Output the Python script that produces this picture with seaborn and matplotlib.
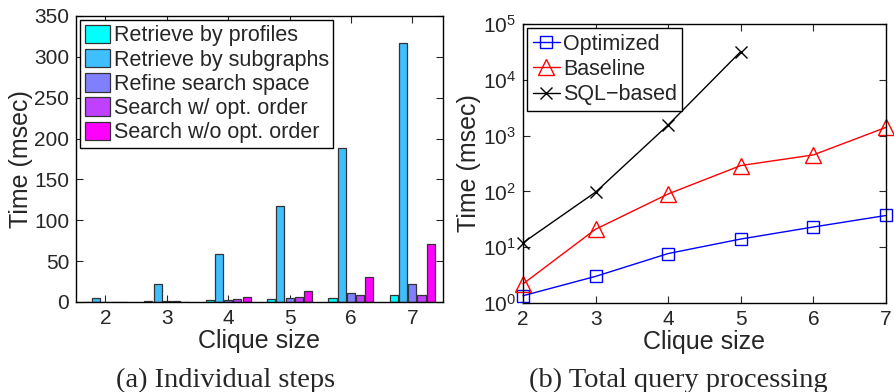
import numpy as np
import pandas as pd
import matplotlib
matplotlib.use("Agg")
import matplotlib.pyplot as plt
import seaborn as sns
from matplotlib.ticker import FixedLocator

# ---------------- data ----------------
clique_sizes = [2, 3, 4, 5, 6, 7]
step_names = ["Retrieve by profiles", "Retrieve by subgraphs", "Refine search space",
              "Search w/ opt. order", "Search w/o opt. order"]
retrieve_profiles = [0.5, 1.0, 2.5, 4.0, 5.0, 8.5]
retrieve_subgraphs = [5.5, 22.0, 59.0, 117.0, 188.0, 317.0]
refine_space = [0.5, 1.0, 2.0, 5.5, 11.0, 21.5]
search_opt = [0.3, 1.0, 3.5, 6.0, 9.0, 9.0]
search_noopt = [0.5, 0.5, 6.0, 13.5, 30.5, 71.0]

total_x = [2, 3, 4, 5, 6, 7]
optimized = [1.35, 3.0, 7.7, 14.0, 23.0, 37.0]
baseline = [2.2, 21.0, 90.0, 290.0, 450.0, 1400.0]
sql_x = [2, 3, 4, 5]
sql_based = [12.0, 97.0, 1550.0, 32000.0]

step_colors = ["#00FFFF", "#40BFFF", "#8080FF", "#BF40FF", "#FF00FF"]

# ---------------- style ----------------
sns.set_theme(style="ticks")
plt.rcParams["font.family"] = ["Liberation Sans", "DejaVu Sans"]
plt.rcParams["mathtext.fontset"] = "custom"
plt.rcParams["mathtext.rm"] = "Liberation Sans"
plt.rcParams["mathtext.it"] = "Liberation Sans"
plt.rcParams["axes.linewidth"] = 1.0
plt.rcParams["axes.edgecolor"] = "black"

fig = plt.figure(figsize=(8.94, 3.92), dpi=100)
ax1 = fig.add_axes([0.085, 0.2296, 0.4105, 0.7296])
ax2 = fig.add_axes([0.585, 0.227, 0.406, 0.712])

# ---------------- left: bars ----------------
rows = []
series = [retrieve_profiles, retrieve_subgraphs, refine_space, search_opt, search_noopt]
for name, vals in zip(step_names, series):
    for c, v in zip(clique_sizes, vals):
        rows.append({"Clique size": str(c), "Step": name, "Time": v})
df_bars = pd.DataFrame(rows)

sns.barplot(data=df_bars, x="Clique size", y="Time", hue="Step",
            hue_order=step_names, palette=step_colors, width=0.75, gap=0.12,
            edgecolor="#333333", linewidth=0.9, saturation=1.0, errorbar=None, ax=ax1)
ax1.set_xlim(-0.48, 5.5)
ax1.set_ylim(0, 350)
ax1.set_yticks(np.arange(0, 351, 50))
ax1.set_xlabel("Clique size", fontsize=18, labelpad=1)
ax1.set_ylabel("Time (msec)", fontsize=18, labelpad=1)
ax1.tick_params(direction="in", top=True, right=True, labelsize=15, length=5, width=0.8, pad=5)
leg1 = ax1.legend(loc="upper left", fontsize=15.5, frameon=True, fancybox=False,
                  edgecolor="black", framealpha=1, borderpad=0.2, labelspacing=0.12,
                  handlelength=1.2, handleheight=0.95, handletextpad=0.15,
                  borderaxespad=0.2, title=None)
leg1.get_frame().set_linewidth(1.0)

# ---------------- right: lines ----------------
df_opt = pd.DataFrame({"Clique size": total_x, "Time": optimized})
df_base = pd.DataFrame({"Clique size": total_x, "Time": baseline})
df_sql = pd.DataFrame({"Clique size": sql_x, "Time": sql_based})

sns.lineplot(data=df_opt, x="Clique size", y="Time", color="blue", marker="s",
             markersize=8, markerfacecolor="none", markeredgecolor="blue",
             markeredgewidth=1.0, linewidth=1.0, label="Optimized", ax=ax2, clip_on=False)
sns.lineplot(data=df_base, x="Clique size", y="Time", color="red", marker="^",
             markersize=11, markerfacecolor="none", markeredgecolor="red",
             markeredgewidth=1.0, linewidth=1.0, label="Baseline", ax=ax2, clip_on=False)
sns.lineplot(data=df_sql, x="Clique size", y="Time", color="black", marker="x",
             markersize=8, markeredgecolor="black", markeredgewidth=1.0, linewidth=1.0,
             label="SQL\u2212based", ax=ax2, clip_on=False)
ax2.set_yscale("log")
ax2.set_xlim(2, 7)
ax2.set_ylim(1, 1e5)
ax2.set_xticks(total_x)
ax2.yaxis.set_major_locator(FixedLocator([1, 10, 100, 1e3, 1e4, 1e5]))
ax2.yaxis.set_minor_locator(FixedLocator([]))
ax2.set_xlabel("Clique size", fontsize=18, labelpad=1)
ax2.set_ylabel("Time (msec)", fontsize=18, labelpad=1)
ax2.tick_params(direction="in", top=True, right=True, labelsize=15, length=5, width=0.8, pad=5)
ax2.tick_params(which="minor", length=0)
leg2 = ax2.legend(loc="upper left", fontsize=15.5, frameon=True, fancybox=False,
                  edgecolor="black", framealpha=1, borderpad=0.25, labelspacing=0.2,
                  handlelength=1.25, handletextpad=0.15, borderaxespad=0.2, numpoints=1)
leg2.get_frame().set_linewidth(1.0)

# ---------------- captions ----------------
fig.text(0.252, 0.014, "(a) Individual steps", ha="center", va="baseline",
         fontsize=20.5, family=["Liberation Serif", "DejaVu Serif"])
fig.text(0.759, 0.014, "(b) Total query processing", ha="center", va="baseline",
         fontsize=20.5, family=["Liberation Serif", "DejaVu Serif"])

fig.savefig("out.png", dpi=100)
